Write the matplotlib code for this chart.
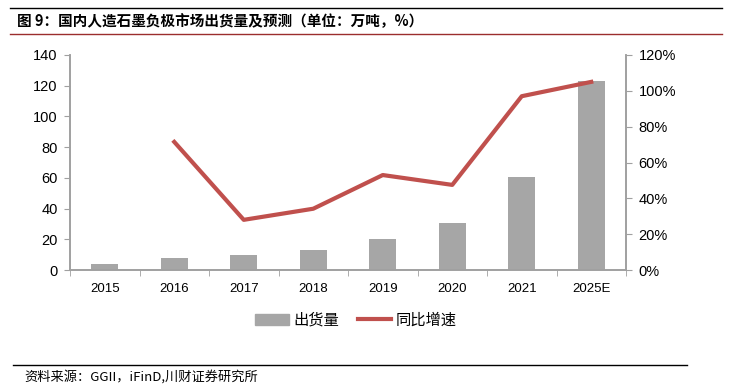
import numpy as np
import matplotlib.pyplot as plt
from matplotlib.lines import Line2D

plt.rcParams['font.family'] = ['Liberation Sans', 'Noto Sans CJK SC', 'DejaVu Sans']

years = ['2015', '2016', '2017', '2018', '2019', '2020', '2021', '2025E']
shipment = [4.1, 7.6, 9.8, 13.2, 20.4, 30.4, 60.5, 123.3]
growth = [np.nan, 71.5, 28.0, 34.2, 53.0, 47.5, 97.0, 105.0]

bar_color = '#A6A6A6'
line_color = '#C0504D'
axis_color = '#A0A0A0'
cjk = ['Noto Sans CJK SC', 'DejaVu Sans']

fig = plt.figure(figsize=(7.36, 3.9), dpi=100)
ax = fig.add_axes([70 / 736, 120 / 390, 556 / 736, 215 / 390])
ax2 = ax.twinx()

x = np.arange(len(years))
ax.bar(x, shipment, width=0.39, color=bar_color, zorder=2, label='出货量')
ax2.plot(x, growth, color=line_color, lw=3, zorder=3, label='同比增速')

ax.set_xlim(-0.5, len(years) - 0.5)
ax.set_ylim(0, 140)
ax.set_yticks(range(0, 141, 20))
ax2.set_ylim(0, 120)
ax2.set_yticks(range(0, 121, 20))
ax2.set_yticklabels([f'{v}%' for v in range(0, 121, 20)])

ax.set_xticks(x)
ax.set_xticklabels(years)
ax.set_xticks(np.arange(-0.5, len(years), 1), minor=True)
ax.tick_params(axis='x', which='major', length=0, pad=9, labelsize=9.5)
ax.tick_params(axis='x', which='minor', length=4, color=axis_color, direction='out')
ax.tick_params(axis='y', length=4, color=axis_color, labelsize=10.5, pad=5)
ax2.tick_params(axis='y', length=4, color=axis_color, labelsize=10.5, pad=5)

for a in (ax, ax2):
    a.spines['top'].set_visible(False)
    for s in ['left', 'right', 'bottom']:
        a.spines[s].set_color(axis_color)
        a.spines[s].set_linewidth(1.2)

handles = [plt.Rectangle((0, 0), 1, 1, color=bar_color),
           Line2D([0], [0], color=line_color, lw=3)]
fig.legend(handles, ['出货量', '同比增速'], loc='center', bbox_to_anchor=(356 / 736, 1 - 320 / 390),
           ncol=2, frameon=False, prop={'family': cjk, 'size': 11},
           handlelength=2.2, handleheight=0.7, columnspacing=1.2, handletextpad=0.3)

# title and frame lines
fig.add_artist(Line2D([10 / 736, 722 / 736], [1 - 8 / 390, 1 - 8 / 390], color='black', lw=1))
fig.add_artist(Line2D([10 / 736, 722 / 736], [1 - 34 / 390, 1 - 34 / 390], color='#9B2D2D', lw=1))
fig.text(17 / 736, 1 - 21 / 390, '图 9：国内人造石墨负极市场出货量及预测（单位：万吨，%）',
         family=cjk, fontweight='bold', fontsize=10.5, va='center', ha='left')

fig.add_artist(Line2D([13 / 736, 687 / 736], [1 - 365 / 390, 1 - 365 / 390], color='black', lw=1))
fig.text(24 / 736, 1 - 377 / 390, '资料来源：GGII，iFinD,川财证券研究所',
         family=cjk, style='italic', fontsize=9.5, va='center', ha='left')

fig.savefig('out.png', dpi=100)
